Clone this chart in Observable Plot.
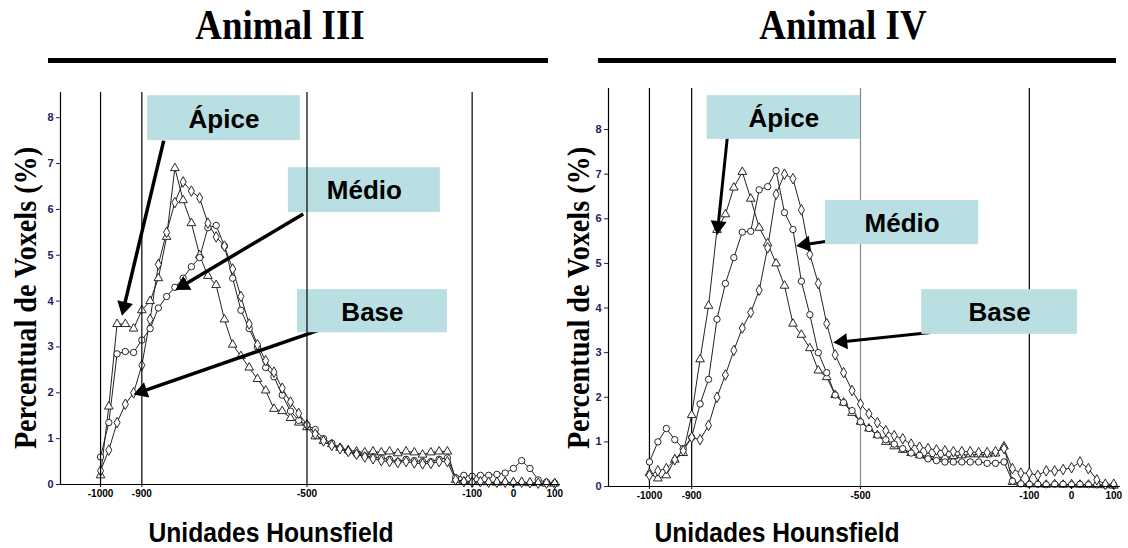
<!DOCTYPE html>
<html><head><meta charset="utf-8">
<script src="https://cdn.jsdelivr.net/npm/d3@7"></script>
<script src="https://cdn.jsdelivr.net/npm/@observablehq/plot@0.6"></script>
<style>
body{margin:0;background:#fff;width:1128px;height:548px;overflow:hidden;position:relative;font-family:"Liberation Sans",Arial,sans-serif}
.abs{position:absolute}
.title{font-family:"Liberation Serif","Times New Roman",serif;font-weight:bold;font-size:42px;line-height:42px;white-space:nowrap;transform:translateX(-50%) scaleX(.88)}
.rule{background:#000;height:5px}
.ylab{font-family:"Liberation Serif","Times New Roman",serif;font-weight:bold;font-size:32px;line-height:32px;white-space:nowrap;transform:translate(-50%,-50%) rotate(-90deg) scaleX(.88)}
.xlab{font-weight:bold;font-size:28px;line-height:28px;white-space:nowrap;transform:translate(-50%,-50%) scaleX(.88)}
svg{overflow:visible}
</style></head>
<body>
<div id="root"></div>
<script>
// Hounsfield units (x values)
const hu = [-1000,-980,-960,-940,-920,-900,-880,-860,-840,-820,-800,-780,-760,-740,-720,-700,-680,-660,-640,-620,-600,-580,-560,-540,-520,-500,-480,-460,-440,-420,-400,-380,-360,-340,-320,-300,-280,-260,-240,-220,-200,-180,-160,-140,-120,-100,-80,-60,-40,-20,0,20,40,60,80,100];
const seriesNames = ["Ápice","Médio","Base"];

// Animal III
const a3Apice = [0.2,1.7,3.5,3.5,3.4,3.8,4.0,4.5,5.4,6.9,6.2,5.7,5.0,4.55,4.35,3.6,3.05,2.8,2.55,2.3,2.05,1.65,1.6,1.45,1.35,1.25,1.05,0.95,0.88,0.8,0.75,0.72,0.7,0.72,0.7,0.72,0.68,0.72,0.7,0.65,0.7,0.72,0.72,0.1,0.08,0.06,0.05,0.05,0.04,0.05,0.04,0.04,0.03,0.03,0.02,0.02];
const a3Medio = [0.6,1.35,2.85,2.9,2.88,3.15,3.4,3.85,4.1,4.3,4.5,4.75,4.95,5.6,5.65,5.2,4.5,3.8,3.4,3.0,2.55,2.35,1.95,1.6,1.4,1.3,1.2,1.0,0.9,0.8,0.72,0.66,0.62,0.6,0.58,0.55,0.5,0.55,0.52,0.5,0.5,0.55,0.58,0.15,0.2,0.18,0.2,0.2,0.22,0.25,0.35,0.52,0.35,0.1,0.05,0.03];
const a3Base = [0.3,0.75,1.35,1.75,2.0,2.6,3.6,4.8,5.5,6.15,6.6,6.4,6.25,5.7,5.4,5.2,4.7,4.1,3.5,3.05,2.7,2.45,2.1,1.8,1.55,1.3,1.1,0.95,0.85,0.78,0.72,0.66,0.6,0.56,0.52,0.5,0.48,0.5,0.47,0.45,0.46,0.5,0.5,0.1,0.06,0.05,0.06,0.05,0.05,0.05,0.04,0.05,0.04,0.03,0.03,0.02];

// Animal IV
const a4Apice = [0.3,0.18,0.25,0.6,0.75,1.6,2.85,4.05,5.75,6.1,6.7,7.05,6.45,5.8,5.45,5.0,4.5,3.65,3.4,3.1,2.6,2.45,2.05,1.88,1.65,1.45,1.3,1.15,1.0,0.9,0.82,0.75,0.7,0.68,0.66,0.65,0.68,0.7,0.72,0.72,0.72,0.74,0.9,0.1,0.06,0.05,0.05,0.04,0.05,0.04,0.05,0.04,0.04,0.03,0.03,0.02];
const a4Medio = [0.55,1.0,1.3,1.05,0.85,1.1,1.85,2.4,3.75,4.55,5.13,5.7,5.72,6.65,6.72,7.08,6.14,5.76,4.6,3.85,3.0,2.55,2.05,1.88,1.7,1.45,1.3,1.15,1.05,0.95,0.85,0.75,0.7,0.62,0.58,0.55,0.55,0.55,0.55,0.55,0.52,0.52,0.55,0.12,0.06,0.05,0.05,0.04,0.05,0.05,0.04,0.05,0.04,0.04,0.03,0.03];
const a4Base = [0.25,0.35,0.4,0.6,0.8,1.1,1.05,1.37,2.0,2.5,3.05,3.55,3.9,4.4,5.35,6.55,7.0,6.9,6.2,5.2,4.55,3.65,2.95,2.55,2.15,1.85,1.63,1.43,1.25,1.14,1.07,0.95,0.88,0.85,0.82,0.8,0.78,0.78,0.78,0.76,0.76,0.78,0.85,0.4,0.3,0.3,0.25,0.35,0.35,0.38,0.42,0.55,0.4,0.15,0.05,0.05];

const refLines = [-1000,-900,-500,-100];
const xTicks = [-1000,-900,-500,-100,0,100];
const yTicks = [0,1,2,3,4,5,6,7,8];

// annotation boxes / arrows in data units
const a3Boxes = [
  {label:"Ápice", x1:-886, x2:-516, y1:7.5, y2:8.48},
  {label:"Médio", x1:-545, x2:-177, y1:5.93, y2:6.91},
  {label:"Base", x1:-523, x2:-160, y1:3.31, y2:4.25}];
const a3Arrows = [
  {x1:-847, y1:7.5, x2:-947, y2:3.73},
  {x1:-509, y1:5.9, x2:-814, y2:4.27},
  {x1:-438, y1:3.47, x2:-915, y2:1.98}];
const a4Boxes = [
  {label:"Ápice", x1:-863, x2:-500, y1:7.78, y2:8.76},
  {label:"Médio", x1:-583, x2:-220, y1:5.42, y2:6.41},
  {label:"Base", x1:-355, x2:14, y1:3.41, y2:4.41}];
const a4Arrows = [
  {x1:-815, y1:7.87, x2:-839, y2:5.69},
  {x1:-571, y1:5.51, x2:-647, y2:5.4},
  {x1:-334, y1:3.45, x2:-559, y2:3.23}];

function rowsOf(arrs){
  const rows = [];
  arrs.forEach((arr, i) => arr.forEach((v, j) => rows.push({hu: hu[j], v, s: seriesNames[i]})));
  return rows;
}

function panel(o){
  const mL = 60, mT = 12, mB = 36;
  const kx = (o.width - mL - o.marginRight) / (o.xDomain[1] - o.xDomain[0]);
  const ky = (o.height - mT - mB) / (o.yDomain[1] - o.yDomain[0]);
  const headR = 5, headBack = 7;
  // arrow geometry in screen space -> head dot position & rotation
  const arrows = o.arrows.map(a => {
    const dx = (a.x2 - a.x1) * kx, dy = -(a.y2 - a.y1) * ky;
    const len = Math.hypot(dx, dy), ux = dx / len, uy = dy / len;
    const hx = a.x2 - ux * headBack / kx, hy = a.y2 + uy * headBack / ky;
    return {...a, hx, hy, rot: Math.atan2(ux, -uy) * 180 / Math.PI};
  });
  const rows = rowsOf(o.series);
  const rules = Plot.ruleX(refLines, {stroke: o.ruleStroke, strokeWidth: 1.2});
  const marks = [];
  if (!o.rulesOver) marks.push(rules);
  marks.push(
    Plot.line(rows, {x:"hu", y:"v", z:"s", stroke:"#222", strokeWidth:1}),
    Plot.dot(rows, {x:"hu", y:"v", symbol:"s", fill:"white", stroke:"#111", strokeWidth:0.9, r:3.2}),
    Plot.link(arrows, {x1:"x1", y1:"y1", x2:"hx", y2:"hy", stroke:"#000", strokeWidth:o.arrowWidth}),
    Plot.dot(arrows, {x:"hx", y:"hy", symbol:"triangle", rotate:"rot", fill:"#000", stroke:"#000", r:headR}),
    Plot.rect(o.boxes, {x1:"x1", x2:"x2", y1:"y1", y2:"y2", fill:"#b9dfe2"})
  );
  if (o.rulesOver) marks.push(rules);
  marks.push(
    Plot.text(o.boxes, {x: d => (d.x1 + d.x2) / 2, y: d => (d.y1 + d.y2) / 2, text:"label", fontSize:26, fontWeight:"bold", fill:"#000", dy:1, fontFamily:"Liberation Sans, Arial, sans-serif"}),
    Plot.axisX({ticks:xTicks, tickFormat: d => String(d), tickSize:3, tickPadding:2, fontSize:10, fontWeight:"bold", label:null}),
    Plot.axisY({ticks:yTicks, tickSize:4, tickPadding:3, fontSize:11, fontWeight:"bold", color:"#1c2060", label:null}),
    Plot.ruleX([o.xDomain[0]], {stroke:"#000", strokeWidth:1.2}),
    Plot.ruleY([0], {stroke:"#000", strokeWidth:1.2})
  );
  return Plot.plot({
    width:o.width, height:o.height,
    marginLeft:mL, marginTop:mT, marginBottom:mB, marginRight:o.marginRight,
    x:{domain:o.xDomain}, y:{domain:o.yDomain},
    symbol:{domain:seriesNames, range:["triangle","circle","diamond"]},
    style:{background:"transparent", fontFamily:"Liberation Sans, Arial, sans-serif", overflow:"visible"},
    marks
  });
}

const root = document.getElementById("root");
function addDiv(cls, text, css){
  const d = document.createElement("div");
  d.className = "abs " + cls;
  d.textContent = text;
  Object.assign(d.style, css);
  root.appendChild(d);
  return d;
}

addDiv("title", "Animal III", {left:"280px", top:"4px"});
addDiv("title", "Animal IV", {left:"843px", top:"4px"});
addDiv("rule", "", {left:"48px", top:"58px", width:"500px"});
addDiv("rule", "", {left:"598px", top:"58px", width:"518px"});

const p1 = panel({series:[a3Apice,a3Medio,a3Base], boxes:a3Boxes, arrows:a3Arrows, width:570, height:440, marginRight:10,
  xDomain:[-1097,114], yDomain:[0,8.55], ruleStroke:"#000", rulesOver:true, arrowWidth:3.5});
const w1 = document.createElement("div"); w1.className="abs"; Object.assign(w1.style,{left:"0px", top:"80px"}); w1.appendChild(p1); root.appendChild(w1);

const p2 = panel({series:[a4Apice,a4Medio,a4Base], boxes:a4Boxes, arrows:a4Arrows, width:580, height:446, marginRight:8,
  xDomain:[-1097,116], yDomain:[0,8.92], ruleStroke: d => d === -500 ? "#888" : "#000", rulesOver:false, arrowWidth:3});
const w2 = document.createElement("div"); w2.className="abs"; Object.assign(w2.style,{left:"548px", top:"76px"}); w2.appendChild(p2); root.appendChild(w2);

addDiv("ylab", "Percentual de Voxels (%)", {left:"25px", top:"298px"});
addDiv("ylab", "Percentual de Voxels (%)", {left:"578px", top:"298px"});
addDiv("xlab", "Unidades Hounsfield", {left:"271px", top:"533px"});
addDiv("xlab", "Unidades Hounsfield", {left:"777px", top:"533px"});
</script>
</body></html>
